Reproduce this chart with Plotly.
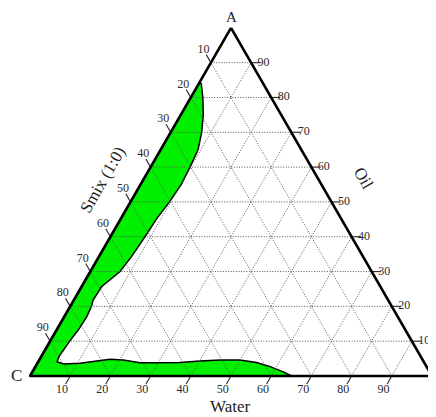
import numpy as np
import plotly.graph_objects as go

# ---------------- data ----------------
tick_values = [10, 20, 30, 40, 50, 60, 70, 80, 90]
tick_labels = ["10", "20", "30", "40", "50", "60", "70", "80", "90"]

# boundary of the green (microemulsion) region, as ternary percentages
region_oil = [84.2, 84.0, 80.0, 75.0, 70.0, 65.0, 60.0, 55.0, 50.0, 45.0, 40.0,
              34.3, 30.0, 25.7, 21.8, 20.0, 17.0, 13.2, 10.3, 8.4, 5.6, 4.1,
              3.45, 3.65, 4.4, 4.8, 4.6, 3.8, 3.8, 3.9, 4.3, 4.6, 4.6, 3.9,
              2.7, 1.2, 0.0, 0.0, 84.2]
region_water = [0.0, 0.6, 3.0, 5.6, 7.7, 9.3, 9.8, 10.1, 9.7, 8.9, 8.6,
                8.1, 7.4, 5.0, 4.8, 5.3, 5.6, 5.4, 4.9, 4.7, 4.4, 4.7,
                6.6, 10.6, 14.4, 17.5, 20.9, 25.5, 30.4, 35.3, 40.1, 45.0, 49.9, 54.4,
                58.4, 62.4, 65.1, 0.0, 0.0]

FONT = "Liberation Serif"
H = np.sqrt(3) / 2
PX = 4.02          # pixels per ternary unit
OFF = 8            # page body margin
W, HT = 436 - OFF, 417 - OFF
CX, CY = 30 - OFF, 376 - OFF   # C vertex position inside the figure


def xy(oil, water):
    oil = np.asarray(oil, dtype=float)
    water = np.asarray(water, dtype=float)
    return water + oil / 2.0, oil * H


fig = go.Figure()

# green region
rx, ry = xy(region_oil, region_water)
fig.add_trace(go.Scatter(x=rx, y=ry, mode="lines", fill="toself",
                         fillcolor="#00f000", line=dict(color="black", width=1.5),
                         hoverinfo="skip", showlegend=False))

# grid lines
gx, gy = [], []
for v in tick_values:
    for (o1, w1), (o2, w2) in [((v, 0), (v, 100 - v)),        # oil = v
                               ((0, v), (100 - v, v)),        # water = v
                               ((0, 100 - v), (100 - v, 0))]:  # smix = v
        x1, y1 = xy(o1, w1)
        x2, y2 = xy(o2, w2)
        gx += [float(x1), float(x2), None]
        gy += [float(y1), float(y2), None]
fig.add_trace(go.Scatter(x=gx, y=gy, mode="lines",
                         line=dict(color="#555555", width=1, dash="1px,1.6px"),
                         hoverinfo="skip", showlegend=False))

# tick marks
t = 2.3
tx, ty = [], []
for v in tick_values:
    a = xy(100 - v, 0); b = xy(100 - v + t, -t)          # left (Smix)
    tx += [float(a[0]), float(b[0]), None]; ty += [float(a[1]), float(b[1]), None]
    a = xy(0, v); b = xy(-t, v)                          # bottom (Water)
    tx += [float(a[0]), float(b[0]), None]; ty += [float(a[1]), float(b[1]), None]
    a = xy(v, 100 - v); b = xy(v, 100 - v + t)           # right (Oil)
    tx += [float(a[0]), float(b[0]), None]; ty += [float(a[1]), float(b[1]), None]
fig.add_trace(go.Scatter(x=tx, y=ty, mode="lines",
                         line=dict(color="#333333", width=1.2),
                         hoverinfo="skip", showlegend=False))

# triangle outline
ex, ey = xy([100, 0, 0, 100], [0, 0, 100, 0])
fig.add_trace(go.Scatter(x=ex, y=ey, mode="lines",
                         line=dict(color="black", width=2.6),
                         hoverinfo="skip", showlegend=False))

# tick labels
tfont = dict(family=FONT, size=12, color="#2a2a2a")
v = np.array(tick_values, dtype=float)
lx, ly = xy(100 - v + 3.7, -3.7 + 0 * v)
fig.add_trace(go.Scatter(x=lx, y=ly, mode="text", text=tick_labels,
                         textposition="middle center", textfont=tfont,
                         hoverinfo="skip", showlegend=False, cliponaxis=False))
bx, by = xy(-4.1 + 0 * v, v)
fig.add_trace(go.Scatter(x=bx, y=by, mode="text", text=tick_labels,
                         textposition="middle center", textfont=tfont,
                         hoverinfo="skip", showlegend=False, cliponaxis=False))
rx2, ry2 = xy(v, 100 - v + 1.6)
fig.add_trace(go.Scatter(x=rx2, y=ry2, mode="text", text=tick_labels,
                         textposition="middle right", textfont=tfont,
                         hoverinfo="skip", showlegend=False, cliponaxis=False))


# titles and vertex labels (positions given in reference-picture pixels)
def px2data(px, py):
    return (px - 30) / PX, (376 - py) / PX


annots = [
    ("Smix (1:0)", 102, 180, -60, 17),
    ("Oil", 364, 178, 60, 17),
    ("Water", 230, 406, 0, 17),
    ("A", 231, 17, 0, 15),
    ("C", 16, 375, 0, 17),
]
for text, px, py, ang, sz in annots:
    dx, dy = px2data(px, py)
    fig.add_annotation(x=dx, y=dy, xref="x", yref="y", text=text, showarrow=False,
                       textangle=ang, font=dict(family=FONT, size=sz, color="#222222"),
                       xanchor="center", yanchor="middle")

fig.update_layout(
    width=W, height=HT,
    margin=dict(l=0, r=0, t=0, b=0),
    paper_bgcolor="white", plot_bgcolor="white",
    xaxis=dict(range=[-CX / PX, (W - CX) / PX], visible=False, fixedrange=True),
    yaxis=dict(range=[-(HT - CY) / PX, CY / PX], visible=False, fixedrange=True),
    showlegend=False,
)

fig.write_html("out.html")
